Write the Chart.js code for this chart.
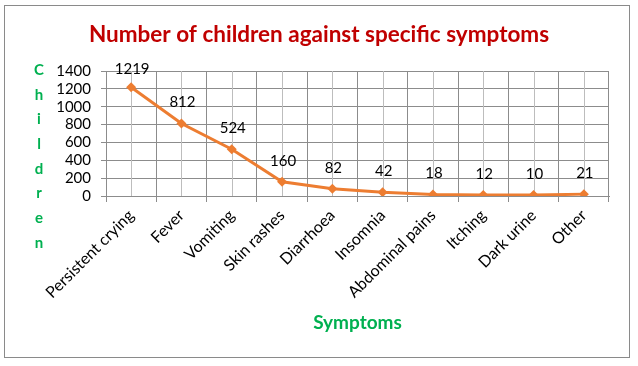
<!DOCTYPE html>
<html>
<head>
<meta charset="utf-8">
<script src="https://cdn.jsdelivr.net/npm/chart.js@4"></script>
<style>
  html, body { margin: 0; padding: 0; background: #fff; }
  canvas { display: block; }
</style>
</head>
<body>
<canvas id="symptom-chart" width="638" height="366"></canvas>
<script>
const symptoms = ['Persistent crying', 'Fever', 'Vomiting', 'Skin rashes', 'Diarrhoea',
                  'Insomnia', 'Abdominal pains', 'Itching', 'Dark urine', 'Other'];
const childCounts = [1219, 812, 524, 160, 82, 42, 18, 12, 10, 21];
const yMax = 1400;
const yStep = 200;
const yTitle = 'Children';

const FONT = 'Lato, "Open Sans", sans-serif';
const GREEN = '#00B050';
const ORANGE = '#ED7D31';
const GRID = '#8c8c8c';

// frame round the whole chart + white background
const framePlugin = {
    id: 'frame',
    beforeDraw(chart) {
        const ctx = chart.ctx;
        ctx.save();
        ctx.fillStyle = '#fff';
        ctx.fillRect(0, 0, chart.width, chart.height);
        ctx.strokeStyle = '#8a8a8a';
        ctx.lineWidth = 1;
        ctx.strokeRect(4.5, 5.5, 625, 352);
        ctx.restore();
    }
};

// lighter lines through the category centres
const centerLines = {
    id: 'centerLines',
    beforeDatasetsDraw(chart) {
        const { ctx, chartArea, scales } = chart;
        ctx.save();
        ctx.strokeStyle = '#bdbdbd';
        ctx.lineWidth = 1;
        symptoms.forEach((s, i) => {
            const x = Math.round(scales.x.getPixelForValue(i)) + 0.5;
            ctx.beginPath();
            ctx.moveTo(x, chartArea.top);
            ctx.lineTo(x, chartArea.bottom);
            ctx.stroke();
        });
        ctx.restore();
    }
};

// stacked letters for the y axis title
const stackedTitle = {
    id: 'stackedTitle',
    afterDraw(chart) {
        const ctx = chart.ctx;
        ctx.save();
        ctx.fillStyle = GREEN;
        ctx.font = 'bold 15px ' + FONT;
        ctx.textAlign = 'center';
        ctx.textBaseline = 'middle';
        yTitle.split('').forEach((ch, i) => {
            ctx.fillText(ch, 39, 70 + i * 24.7);
        });
        ctx.restore();
    }
};

// value labels above each point
const valueLabels = {
    id: 'valueLabels',
    afterDatasetsDraw(chart) {
        const ctx = chart.ctx;
        const meta = chart.getDatasetMeta(0);
        ctx.save();
        ctx.fillStyle = '#000';
        ctx.font = '15px ' + FONT;
        ctx.textAlign = 'center';
        ctx.textBaseline = 'middle';
        meta.data.forEach((pt, i) => {
            const y = Math.max(pt.y - 21, chart.chartArea.top - 2);
            ctx.fillText(String(childCounts[i]), pt.x + 1, y);
        });
        ctx.restore();
    }
};

new Chart(document.querySelector('#symptom-chart').getContext('2d'), {
    type: 'line',
    data: {
        labels: symptoms,
        datasets: [{
            label: 'Children',
            data: childCounts,
            borderColor: ORANGE,
            backgroundColor: ORANGE,
            borderWidth: 3,
            pointStyle: 'rectRot',
            pointRadius: 5,
            pointBorderWidth: 0,
            tension: 0
        }]
    },
    options: {
        responsive: false,
        animation: false,
        devicePixelRatio: 1,
        layout: { padding: { left: 29, right: 29, top: 0, bottom: 20 } },
        plugins: {
            legend: { display: false },
            tooltip: { enabled: false },
            title: {
                display: true,
                text: 'Number of children against specific symptoms',
                color: '#C00000',
                font: { family: FONT, size: 22.5, weight: 'bold' },
                padding: { top: 21, bottom: 23 }
            }
        },
        scales: {
            x: {
                offset: true,
                grid: { offset: true, color: GRID, tickLength: 6 },
                border: { color: GRID },
                ticks: {
                    autoSkip: false,
                    maxRotation: 45,
                    minRotation: 45,
                    color: '#000',
                    padding: 4,
                    font: { family: FONT, size: 16 }
                },
                title: {
                    display: true,
                    text: 'Symptoms',
                    color: GREEN,
                    font: { family: FONT, size: 19, weight: 'bold' },
                    padding: { top: 0, bottom: 12 }
                },
                afterFit(scale) { scale.height = 150; }
            },
            y: {
                min: 0,
                max: yMax,
                grid: { color: GRID, tickLength: 5 },
                border: { color: GRID },
                ticks: {
                    stepSize: yStep,
                    autoSkip: false,
                    color: '#000',
                    padding: 10,
                    font: { family: FONT, size: 15 },
                    callback: v => String(v)
                },
                afterFit(scale) { scale.width = 77; }
            }
        }
    },
    plugins: [framePlugin, centerLines, stackedTitle, valueLabels]
});
</script>
</body>
</html>
